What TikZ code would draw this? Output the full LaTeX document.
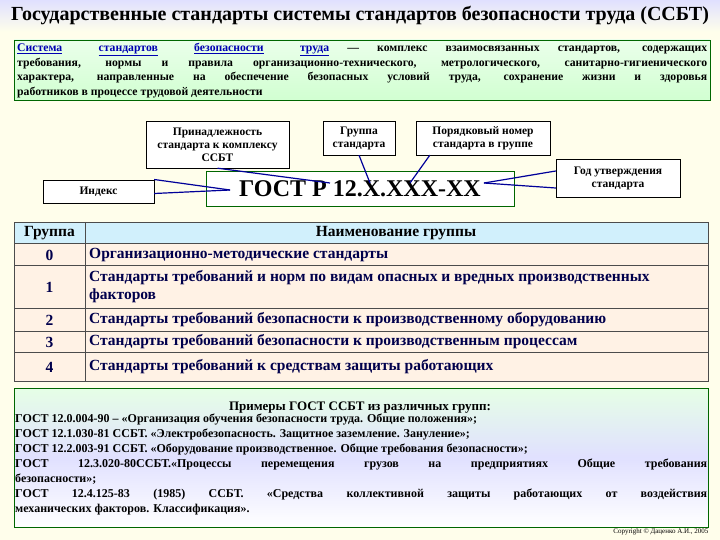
\documentclass[tikz,border=0pt]{standalone}
\usepackage{fontspec}
\setmainfont{Liberation Serif}
\begin{document}
\begin{tikzpicture}[x=1pt,y=-1pt,
  lbl/.style={draw=black,fill=white,font=\bfseries\fontsize{11.5}{13}\selectfont,align=center,inner sep=1pt},
  conn/.style={draw=blue!60!black,line width=1.2pt},
  cell/.style={draw=black!70,line width=0.6pt},
  ctext/.style={font=\bfseries\fontsize{15.5}{18}\selectfont,text=blue!30!black}]
\useasboundingbox (0,0) rectangle (720,540);
\fill[yellow!8] (0,0) rectangle (720,540);
\shade[top color=blue!12,bottom color=yellow!8] (0,0) rectangle (720,32);
\node[font=\bfseries\fontsize{20}{22}\selectfont] (title) at (360,16) {Государственные стандарты системы стандартов безопасности труда (ССБТ)};
% definition
\draw[draw=green!40!black,line width=0.8pt,top color=green!8,bottom color=green!18] (14,40) rectangle (710,100);
\node[anchor=north west,text width=690pt,align=justify,inner sep=0pt,font=\bfseries\fontsize{11.7}{14.5}\selectfont] (def) at (17,43)
{\textcolor{blue!70!black}{\underline{Система}\ \ \underline{стандартов}\ \ \underline{безопасности}\ \ \underline{труда}} — комплекс взаимосвязанных стандартов, содержащих\linebreak требования, нормы и правила организационно-технического, метрологического, санитарно-гигиенического\linebreak характера, направленные на обеспечение безопасных условий труда, сохранение жизни и здоровья\linebreak работников в процессе трудовой деятельности};
% gost diagram
\node[draw=green!40!black,fill=white,minimum width=308pt,minimum height=35pt,font=\bfseries\fontsize{24}{26}\selectfont] (gost) at (360,188.5) {ГОСТ Р 12.Х.ХХХ-ХХ};
\node[lbl,minimum width=143pt,minimum height=47pt] (pri) at (217.5,144.5) {Принадлежность\\стандарта к комплексу\\ССБТ};
\node[lbl,minimum width=72pt,minimum height=34pt] (grp) at (359,138) {Группа\\стандарта};
\node[lbl,minimum width=134pt,minimum height=34pt] (por) at (483,138) {Порядковый номер\\стандарта в группе};
\node[lbl,minimum width=124pt,minimum height=38pt] (god) at (618,178) {Год утверждения\\стандарта};
\node[lbl,minimum width=111pt,minimum height=23pt] (ind) at (98.5,191.5) {Индекс};
\coordinate (c1) at (330,183);
\coordinate (c2) at (370,183);
\coordinate (c3) at (410,183);
\coordinate (c4) at (484,183);
\coordinate (c5) at (230,190);
\draw[conn] (pri.south) -- (c1);
\draw[conn] (grp.south) -- (c2);
\draw[conn] (por.south west) ++(14,0) -- (c3);
\draw[conn] (god.west) ++(0,-7) -- (c4);
\draw[conn] (god.west) ++(0,10) -- (c4);
\draw[conn] (ind.east) ++(0,-12) -- (c5);
\draw[conn] (ind.east) ++(0,2) -- (c5);
% table
\fill[cyan!18] (14,222) rectangle (708,243);
\fill[orange!10] (14,243) rectangle (708,381);
\draw[cell] (14,222) rectangle (708,381);
\foreach \y in {243,265,308,331,352} \draw[cell] (14,\y) -- (708,\y);
\draw[cell] (85,222) -- (85,381);
\node[font=\bfseries\fontsize{15.5}{18}\selectfont] (h1) at (49.5,233) {Группа};
\node[font=\bfseries\fontsize{15.5}{18}\selectfont] (h2) at (396,233) {Наименование группы};
\node[ctext] (n0) at (49.5,255) {0};
\node[ctext] (n1) at (49.5,287) {1};
\node[ctext] (n2) at (49.5,320) {2};
\node[ctext] (n3) at (49.5,342) {3};
\node[ctext] (n4) at (49.5,367) {4};
\node[ctext,anchor=west,inner sep=0pt] (t0) at (89,255) {Организационно-методические стандарты};
\node[ctext,anchor=west,inner sep=0pt,align=left] (t1) at (89,287) {Стандарты требований и норм по видам опасных и вредных производственных\\факторов};
\node[ctext,anchor=west,inner sep=0pt] (t2) at (89,320) {Стандарты требований безопасности к производственному оборудованию};
\node[ctext,anchor=west,inner sep=0pt] (t3) at (89,342) {Стандарты требований безопасности к производственным процессам};
\node[ctext,anchor=west,inner sep=0pt] (t4) at (89,367) {Стандарты требований к средствам защиты работающих};
% examples
\draw[draw=green!40!black,line width=0.8pt,top color=green!10,bottom color=white,middle color=blue!12] (14,388) rectangle (708,527);
\node[font=\bfseries\fontsize{13}{15}\selectfont] (exh) at (360,408) {Примеры ГОСТ ССБТ из различных групп:};
\node[anchor=north west,text width=692pt,align=justify,inner sep=0pt,font=\bfseries\fontsize{12}{15}\selectfont] (ex) at (15,414)
{ГОСТ 12.0.004-90 – «Организация обучения безопасности труда. Общие положения»;\\
ГОСТ 12.1.030-81 ССБТ. «Электробезопасность. Защитное заземление. Зануление»;\\
ГОСТ 12.2.003-91 ССБТ. «Оборудование производственное. Общие требования безопасности»;\\
ГОСТ 12.3.020-80ССБТ.«Процессы перемещения грузов на предприятиях Общие требования\linebreak безопасности»;\\
ГОСТ 12.4.125-83 (1985) ССБТ. «Средства коллективной защиты работающих от воздействия\linebreak механических факторов. Классификация».};
\node[anchor=east,font=\fontsize{7}{8}\selectfont] (copy) at (712,532) {Copyright © Даценко А.И., 2005};
\end{tikzpicture}
\end{document}
